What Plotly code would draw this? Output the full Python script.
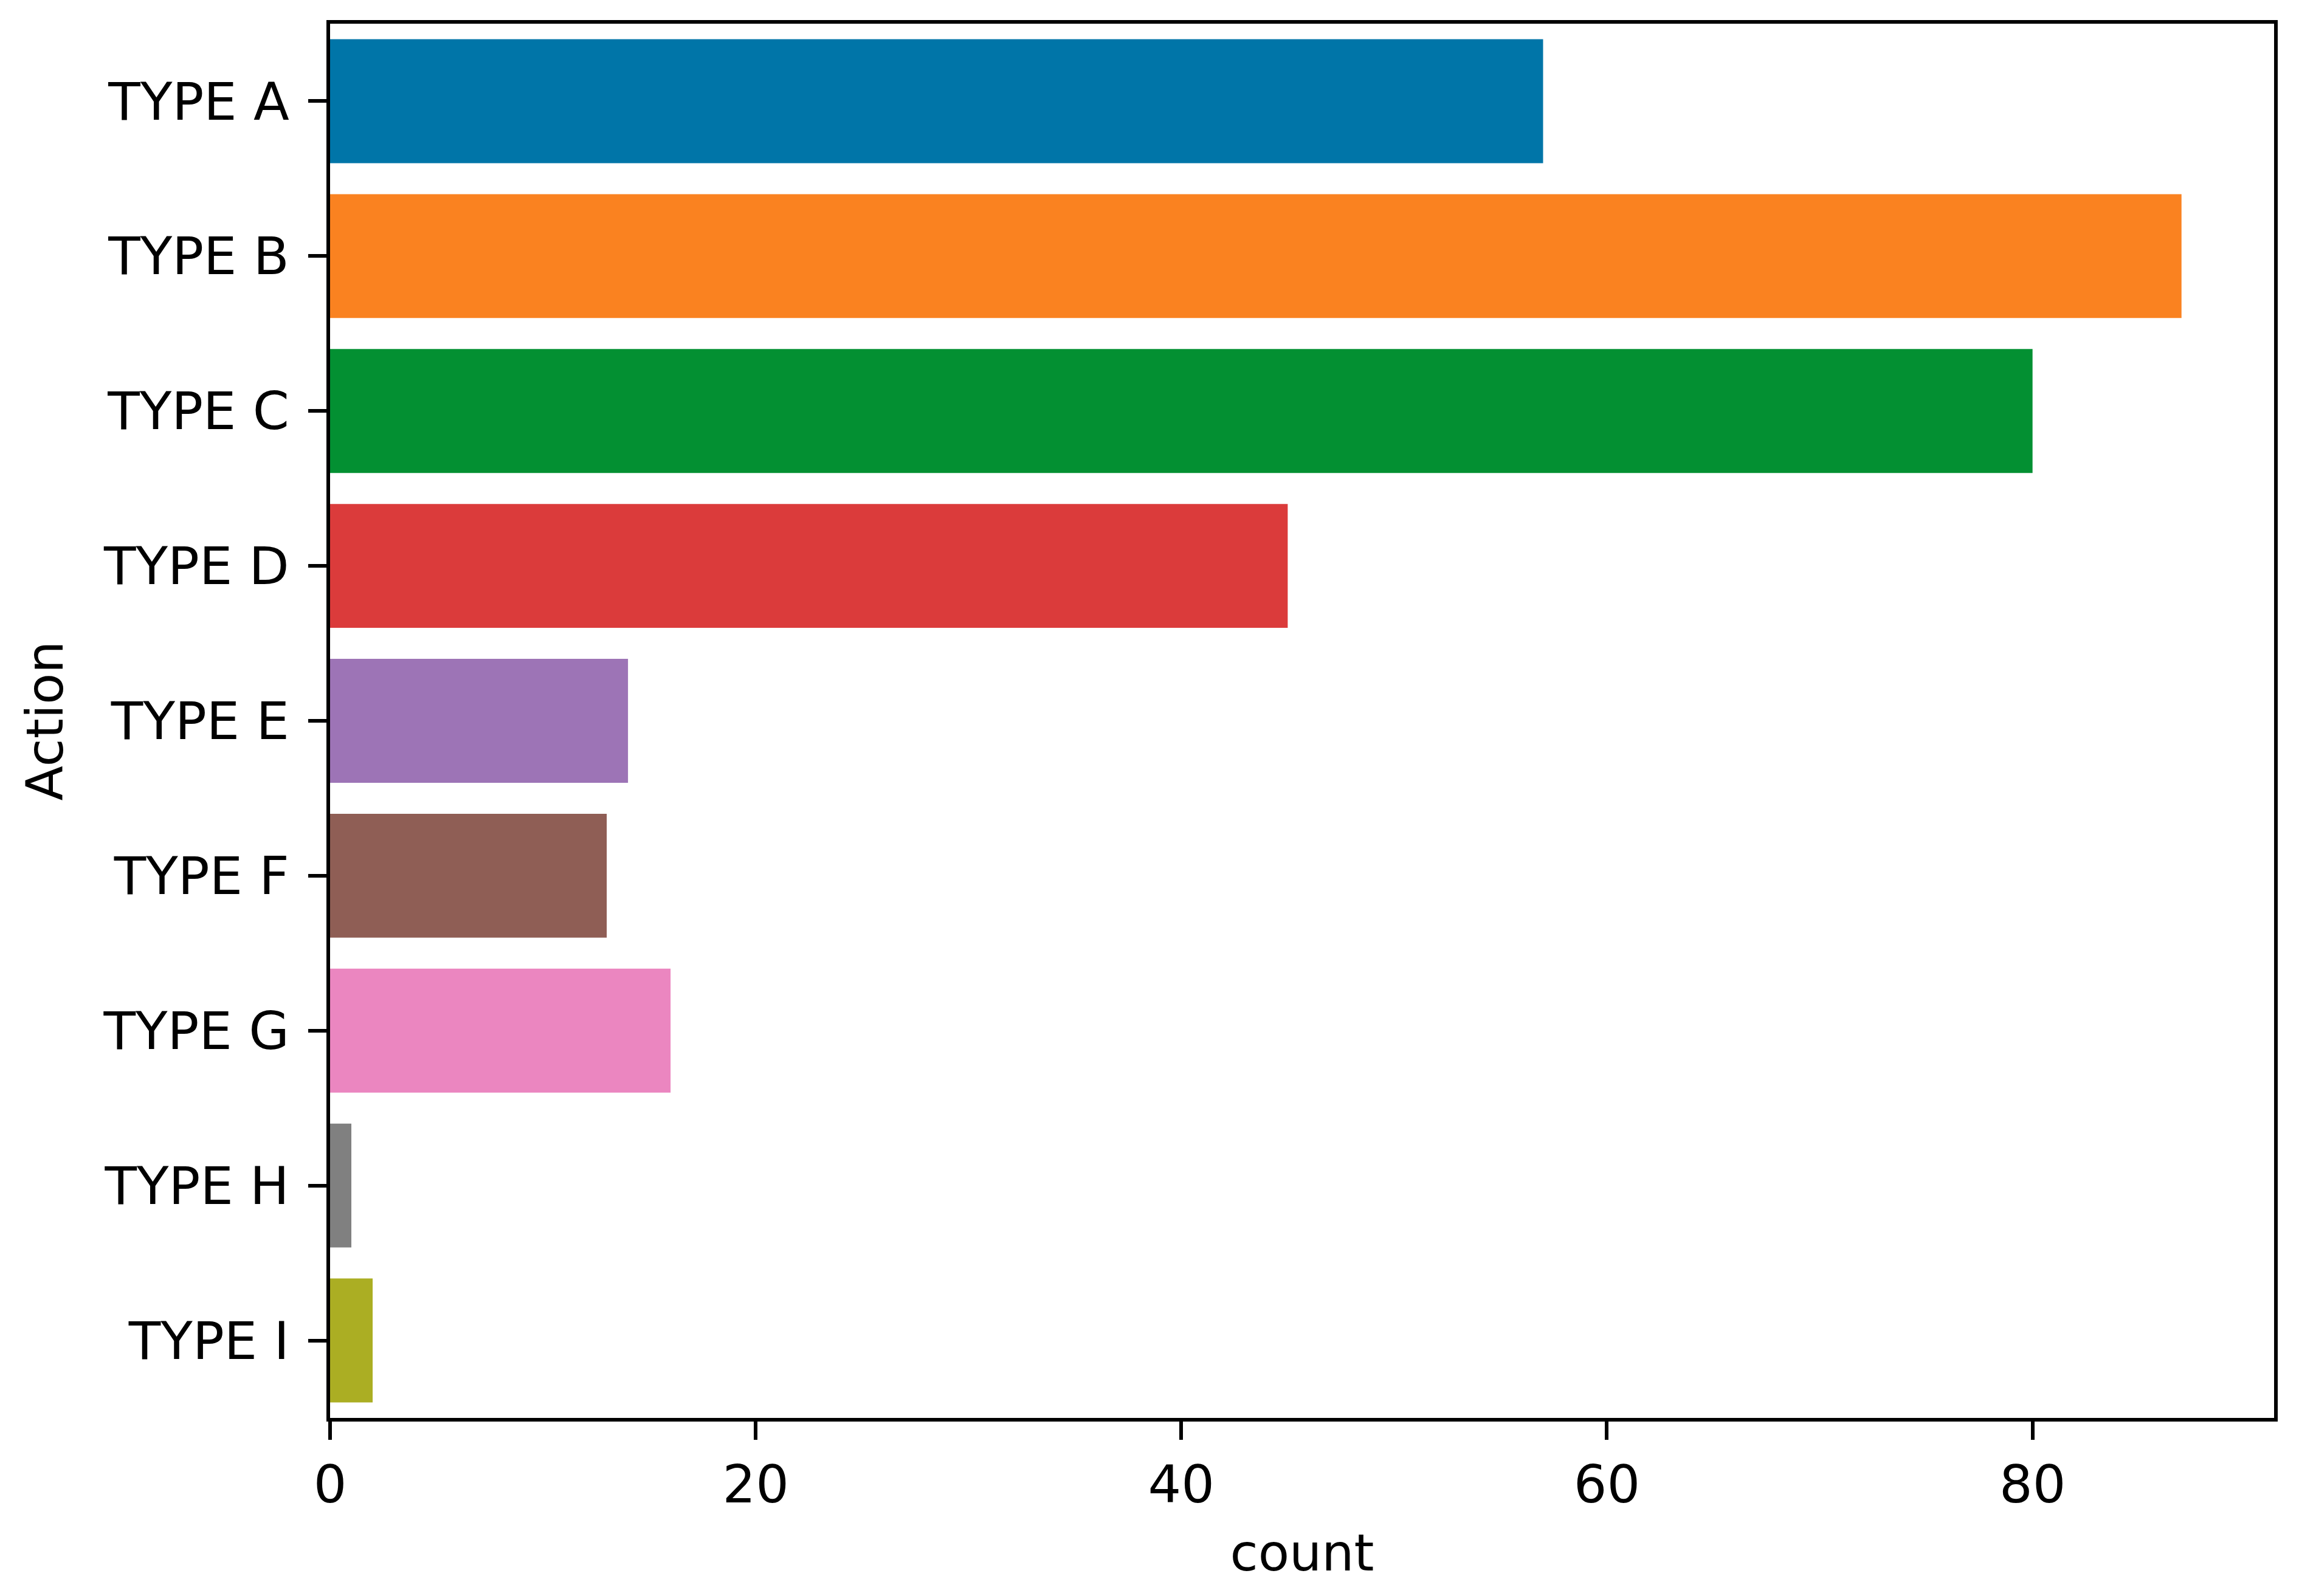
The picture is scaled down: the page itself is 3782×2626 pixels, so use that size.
import plotly.graph_objects as go

categories = ["TYPE A", "TYPE B", "TYPE C", "TYPE D", "TYPE E", "TYPE F", "TYPE G", "TYPE H", "TYPE I"]
counts = [57, 87, 80, 45, 14, 13, 16, 1, 2]
bar_colors = ["#0075a8", "#fa8220", "#039032", "#db3b3b", "#9d74b6",
              "#8f5e55", "#eb86c0", "#808080", "#abae23"]
x_ticks = [0, 20, 40, 60, 80]

font = "DejaVu Sans"

fig = go.Figure()

fig.add_trace(go.Bar(
    x=counts,
    y=categories,
    orientation="h",
    marker=dict(color=bar_colors, line=dict(width=0)),
    width=0.8,
    showlegend=False,
))

fig.update_layout(
    width=3782,
    height=2626,
    margin=dict(l=535, r=49, t=31, b=301),
    paper_bgcolor="white",
    plot_bgcolor="white",
    font=dict(family=font, size=86, color="black"),
    bargap=0.2,
)

fig.update_xaxes(
    range=[0, max(counts) * 1.05],
    tickvals=x_ticks,
    ticks="outside",
    ticklen=30,
    tickwidth=6,
    tickcolor="black",
    showline=True,
    linecolor="black",
    linewidth=6,
    mirror=True,
    showgrid=False,
    zeroline=False,
    title=dict(text="count", font=dict(size=84), standoff=36),
)

fig.update_yaxes(
    categoryorder="array",
    categoryarray=categories,
    autorange=False,
    range=[len(categories) - 0.5, -0.5],
    ticks="outside",
    ticklen=30,
    tickwidth=6,
    tickcolor="black",
    ticklabelstandoff=14,
    showline=True,
    linecolor="black",
    linewidth=6,
    mirror=True,
    showgrid=False,
    zeroline=False,
    title=dict(text="Action", font=dict(size=84), standoff=40),
)

fig.write_html("out.html")
